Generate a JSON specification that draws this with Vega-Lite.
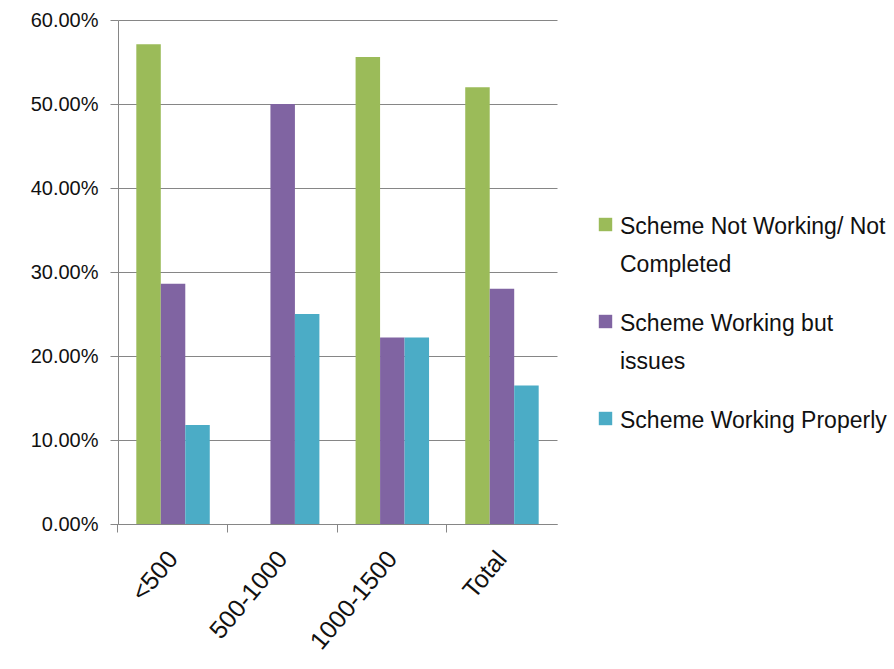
{
  "$schema": "https://vega.github.io/schema/vega-lite/v6.json",
  "autosize": {"type": "none"},
  "width": 439,
  "height": 504,
  "padding": {"left": 118, "top": 20, "right": 337, "bottom": 145},
  "background": "white",
  "config": {
    "view": {"stroke": null},
    "font": "Liberation Sans, sans-serif"
  },
  "data": {
    "values": [
      {"group": "<500", "series": "Scheme Not Working/ Not Completed", "value": 0.571},
      {"group": "<500", "series": "Scheme Working but issues", "value": 0.286},
      {"group": "<500", "series": "Scheme Working Properly", "value": 0.118},
      {"group": "500-1000", "series": "Scheme Not Working/ Not Completed", "value": 0.0},
      {"group": "500-1000", "series": "Scheme Working but issues", "value": 0.5},
      {"group": "500-1000", "series": "Scheme Working Properly", "value": 0.25},
      {"group": "1000-1500", "series": "Scheme Not Working/ Not Completed", "value": 0.556},
      {"group": "1000-1500", "series": "Scheme Working but issues", "value": 0.222},
      {"group": "1000-1500", "series": "Scheme Working Properly", "value": 0.222},
      {"group": "Total", "series": "Scheme Not Working/ Not Completed", "value": 0.52},
      {"group": "Total", "series": "Scheme Working but issues", "value": 0.28},
      {"group": "Total", "series": "Scheme Working Properly", "value": 0.165}
    ]
  },
  "mark": {"type": "bar"},
  "encoding": {
    "x": {
      "field": "group",
      "type": "nominal",
      "sort": ["<500", "500-1000", "1000-1500", "Total"],
      "scale": {"paddingInner": 0.33, "paddingOuter": 0.167},
      "axis": {
        "title": null,
        "labelAngle": -50,
        "labelAlign": "right",
        "labelBaseline": "middle",
        "labelFontSize": 25,
        "labelColor": "#111",
        "labelPadding": 22,
        "domainColor": "#868686",
        "tickColor": "#868686",
        "tickSize": 8,
        "bandPosition": -0.25
      }
    },
    "xOffset": {
      "field": "series",
      "type": "nominal",
      "sort": ["Scheme Not Working/ Not Completed", "Scheme Working but issues", "Scheme Working Properly"],
      "scale": {"paddingInner": 0, "paddingOuter": 0}
    },
    "y": {
      "field": "value",
      "type": "quantitative",
      "scale": {"domain": [0, 0.6], "nice": false},
      "axis": {
        "title": null,
        "format": ".2%",
        "values": [0, 0.1, 0.2, 0.3, 0.4, 0.5, 0.6],
        "labelFontSize": 20,
        "labelColor": "#111",
        "labelPadding": 12,
        "tickSize": 8,
        "tickColor": "#868686",
        "domainColor": "#868686",
        "gridColor": "#868686",
        "gridOpacity": 1
      }
    },
    "color": {
      "field": "series",
      "type": "nominal",
      "sort": ["Scheme Not Working/ Not Completed", "Scheme Working but issues", "Scheme Working Properly"],
      "scale": {"range": ["#9BBB59", "#8064A2", "#4BACC6"]},
      "legend": {
        "title": null,
        "orient": "none",
        "legendX": 476,
        "legendY": 193,
        "symbolType": "square",
        "symbolSize": 180,
        "symbolOpacity": 1,
        "symbolStrokeWidth": 0,
        "labelFontSize": 23,
        "labelColor": "#111",
        "labelLimit": 400,
        "labelOffset": 3,
        "labelBaseline": "top",
        "rowPadding": 33,
        "labelExpr": "datum.label == 'Scheme Not Working/ Not Completed' ? ['Scheme Not Working/ Not', 'Completed'] : datum.label == 'Scheme Working but issues' ? ['Scheme Working but', 'issues'] : datum.label",
        "encode": {"labels": {"update": {"lineHeight": {"value": 38}, "dy": {"value": -9}}}}
      }
    }
  }
}
